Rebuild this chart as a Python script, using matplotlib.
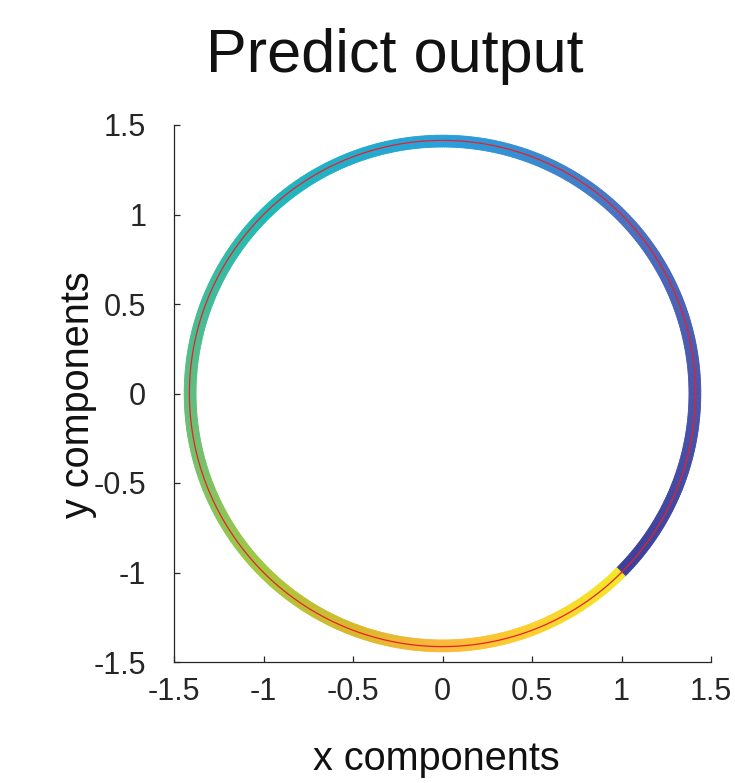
import numpy as np
import matplotlib
matplotlib.use("Agg")
import matplotlib.pyplot as plt
from matplotlib.collections import PolyCollection
from matplotlib.colors import LinearSegmentedColormap

# circle: radius ~ sqrt(2), colour starts at (1,-1)
radius = 1.414
band_radius = 1.41
start_deg = -45.0
end_deg = 315.0
n_pts = 720

# colours along the path (fraction of path, colour)
color_pos = [0.0, 0.125, 0.25, 0.375, 0.5, 0.625, 0.75, 0.82, 0.875, 0.94, 1.0]
color_hex = ["#3b3f9a", "#4a55aa", "#4a72c2", "#27a0dc", "#1fb9b6", "#5ebd80",
             "#a3c840", "#d9b82a", "#fbb83a", "#fcd22e", "#f2e826"]

ticks = [-1.5, -1, -0.5, 0, 0.5, 1, 1.5]
tick_labels = ["-1.5", "-1", "-0.5", "0", "0.5", "1", "1.5"]

font = "Liberation Sans"
ink = "#262626"

fig = plt.figure(figsize=(7.35, 7.83), dpi=100)
ax = fig.add_axes([174 / 735, 1 - 662 / 783, 537 / 735, 537 / 783])

cmap = LinearSegmentedColormap.from_list("path", list(zip(color_pos, color_hex)))

ang = np.deg2rad(np.linspace(start_deg, end_deg, n_pts + 1))
half = 0.033
r_in, r_out = band_radius - half, band_radius + half
polys = []
for a0, a1 in zip(ang[:-1], ang[1:]):
    polys.append([(r_in * np.cos(a0), r_in * np.sin(a0)),
                  (r_out * np.cos(a0), r_out * np.sin(a0)),
                  (r_out * np.cos(a1), r_out * np.sin(a1)),
                  (r_in * np.cos(a1), r_in * np.sin(a1))])
frac = (np.arange(n_pts) + 0.5) / n_pts
cols = cmap(frac)
pc = PolyCollection(polys, facecolors=cols, edgecolors=cols, linewidths=0.6)
ax.add_collection(pc)

ax.plot(radius * np.cos(ang), radius * np.sin(ang), color="#e8202a", lw=0.9)

ax.set_xlim(-1.5, 1.5)
ax.set_ylim(-1.5, 1.5)
ax.set_aspect("equal", adjustable="box")
ax.set_xticks(ticks)
ax.set_yticks(ticks)
ax.set_xticklabels(tick_labels, fontfamily=font, fontsize=22, color=ink)
ax.set_yticklabels(tick_labels, fontfamily=font, fontsize=22, color=ink)
ax.tick_params(direction="in", length=4, width=0.9, color=ink)
ax.tick_params(axis="x", pad=11)
ax.tick_params(axis="y", pad=20)
for s in ["top", "right"]:
    ax.spines[s].set_visible(False)
for s in ["left", "bottom"]:
    ax.spines[s].set_color(ink)
    ax.spines[s].set_linewidth(0.9)

fig.text(395 / 735, 1 - 72 / 783, "Predict output", fontfamily=font, fontsize=44,
         color="#111111", ha="center", va="baseline")
fig.text(436 / 735, 1 - 770 / 783, "x components", fontfamily=font, fontsize=28.5,
         color="#111111", ha="center", va="baseline")
fig.text(78 / 735, 1 - 395 / 783, "y components", fontfamily=font, fontsize=28.5,
         color="#111111", ha="center", va="center", rotation=90)

fig.savefig("out.png", dpi=100)
